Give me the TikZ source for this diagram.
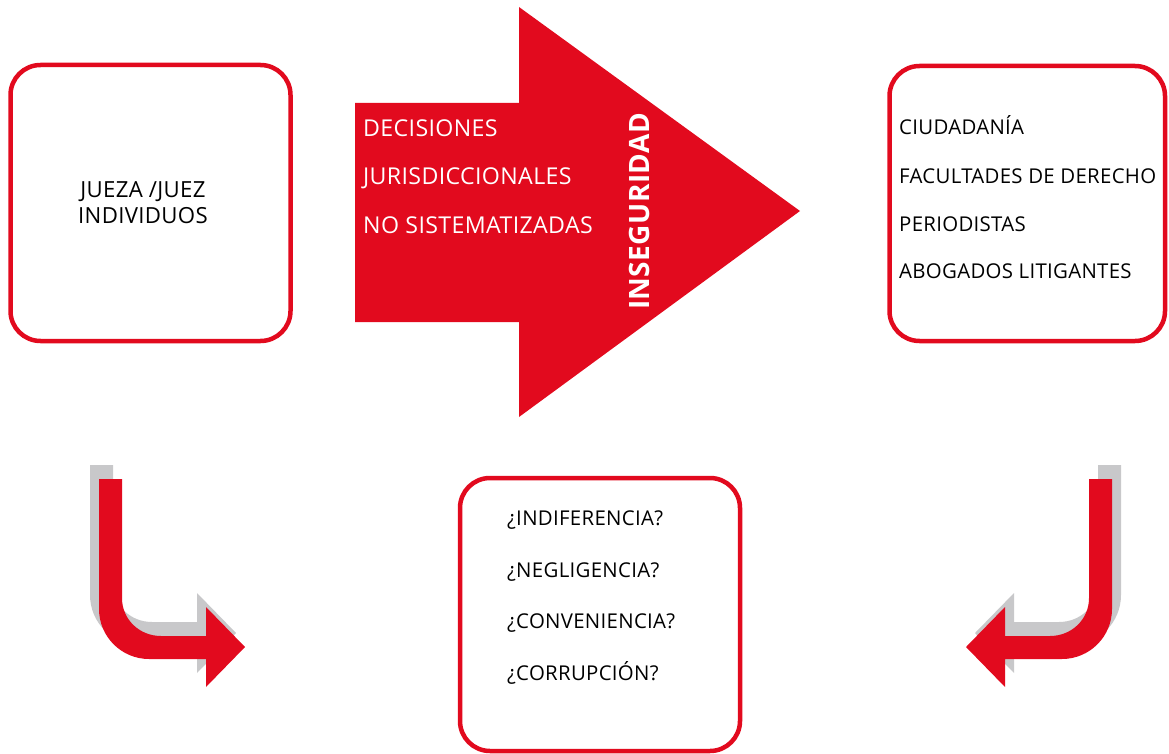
\documentclass[tikz,border=0pt]{standalone}
\usepackage{fontspec}
\setmainfont{Open Sans}[LetterSpace=1.5]
\definecolor{dred}{RGB}{226,10,30}
\definecolor{sgray}{RGB}{200,200,202}
\tikzset{
  rbox/.style={draw=dred, line width=4.5pt, rounded corners=30pt, fill=white},
  btxt/.style={anchor=base west, inner sep=0pt, font=\fontsize{20.4}{24}\selectfont, text=black},
  wtxt/.style={anchor=base west, inner sep=0pt, font=\fontsize{23.2}{27}\selectfont, text=white},
  ltxt/.style={anchor=base, inner sep=0pt, font=\fontsize{22.2}{26}\selectfont, text=black},
}
\begin{document}
\begin{tikzpicture}[x=1pt,y=-1pt]
\useasboundingbox (0,0) rectangle (1169,754);
% boxes
\draw[rbox] (10.5,65) rectangle (290.5,341);
\draw[rbox] (889.5,66) rectangle (1165,341);
\draw[rbox] (460,478) rectangle (740,751);
% big arrow
\fill[dred] (355,103) -- (519,103) -- (519,7) -- (800,211) -- (519,417) -- (519,322) -- (355,322) -- cycle;
% left box text
\node[ltxt] (j1) at (143,197) {JUEZA /JUEZ};
\node[ltxt] (j2) at (143,223) {INDIVIDUOS};
% arrow text
\node[wtxt] (d1) at (363,137) {DECISIONES};
\node[wtxt] (d2) at (363,185) {JURISDICCIONALES};
\node[wtxt] (d3) at (363,233) {NO SISTEMATIZADAS};
\node[rotate=90, inner sep=0pt, text=white, font=\bfseries\fontsize{28}{33}\selectfont] (ins) at (639,211.5) {INSEGURIDAD};
% right box text
\node[btxt] (c1) at (899,135) {CIUDADANÍA};
\node[btxt] (c2) at (899,183) {FACULTADES DE DERECHO};
\node[btxt] (c3) at (899,231) {PERIODISTAS};
\node[btxt] (c4) at (899,278) {ABOGADOS LITIGANTES};
% bottom box text
\node[btxt] (q1) at (507,525) {¿INDIFERENCIA?};
\node[btxt] (q2) at (507,577) {¿NEGLIGENCIA?};
\node[btxt] (q3) at (507,628) {¿CONVENIENCIA?};
\node[btxt] (q4) at (507,680) {¿CORRUPCIÓN?};
% curved arrows
\def\bentarrow{(99,479) -- (122,479) -- (122,598) .. controls (122,619.5) and (139.5,636) .. (161,636) -- (206,636) -- (206,607) -- (245,647) -- (206,687) -- (206,659) -- (149,659) .. controls (121.4,659) and (99,636.6) .. (99,609) -- cycle}
\begin{scope}[shift={(-9,-14)}]
\fill[sgray] \bentarrow;
\end{scope}
\fill[dred] \bentarrow;
\begin{scope}[xshift=1211pt, xscale=-1]
\begin{scope}[shift={(-9,-14)}]
\fill[sgray] \bentarrow;
\end{scope}
\fill[dred] \bentarrow;
\end{scope}
\end{tikzpicture}
\end{document}
